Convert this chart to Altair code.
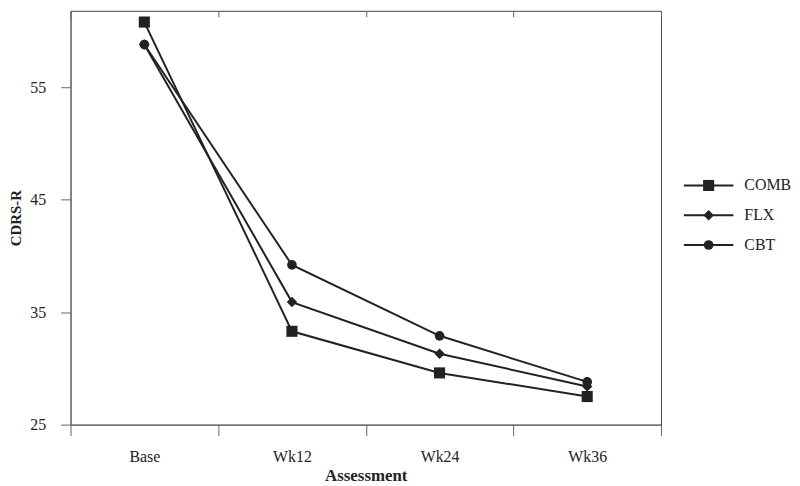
import altair as alt
import pandas as pd

assessments = ["Base", "Wk12", "Wk24", "Wk36"]
series = ["COMB", "FLX", "CBT"]
comb = [60.8, 33.3, 29.6, 27.5]
flx = [58.8, 35.9, 31.3, 28.4]
cbt = [58.8, 39.2, 32.9, 28.8]
y_ticks = [25, 35, 45, 55]
shapes = ["square", "diamond", "circle"]
sizes = [125, 95, 110]

rows = []
for s, vals in zip(series, [comb, flx, cbt]):
    for a, v in zip(assessments, vals):
        rows.append({"Assessment": a, "Group": s, "CDRS-R": v})
df = pd.DataFrame(rows)

FONT = "Liberation Serif"
INK = "#222222"
AXC = "#666666"

shape_scale = alt.Scale(domain=series, range=shapes)
size_scale = alt.Scale(domain=series, range=sizes)
xscale = alt.Scale(type="band", paddingInner=0, paddingOuter=0)

y = alt.Y("CDRS-R:Q", scale=alt.Scale(domain=[25, 61.8], nice=False, zero=False),
          axis=alt.Axis(title="CDRS-R", values=y_ticks, tickSize=10, labelPadding=15,
                        labelFontSize=16, labelFont=FONT, labelColor=INK,
                        titleFont=FONT, titleFontSize=15, titleFontWeight="bold",
                        titleColor=INK, titlePadding=6, grid=False,
                        domainColor=AXC, tickColor=AXC))

lines = alt.Chart(df).mark_line(color=INK, strokeWidth=2).encode(
    x=alt.X("Assessment:N", sort=assessments, scale=xscale,
            axis=alt.Axis(title="Assessment", tickBand="extent", tickSize=11,
                          labelPadding=13, labelFontSize=16, labelFont=FONT,
                          labelColor=INK, labelAngle=0, titleFont=FONT,
                          titleFontSize=17, titleFontWeight="bold", titleColor=INK,
                          titlePadding=3, grid=False, domainColor=AXC, tickColor=AXC)),
    y=y,
    detail="Group:N",
)

points = alt.Chart(df).mark_point(filled=True, opacity=1, color=INK).encode(
    x=alt.X("Assessment:N", sort=assessments, scale=xscale,
            axis=alt.Axis(orient="top", title=None, labels=False, domain=False,
                          tickBand="extent", tickSize=6, offset=-6, tickColor=AXC,
                          grid=False)),
    y=y,
    shape=alt.Shape("Group:N", scale=shape_scale, legend=None),
    size=alt.Size("Group:N", scale=size_scale, legend=None),
)

main = alt.layer(lines, points).resolve_axis(x="independent").properties(
    width=595, height=417, view=alt.ViewBackground(stroke="#444444", strokeWidth=1)
)

leg_df = pd.DataFrame({"Group": series})
ly = alt.Y("Group:N", sort=series,
           scale=alt.Scale(type="point", range=[176, 236], padding=0), axis=None)
leg_rule = alt.Chart(leg_df).mark_rule(color=INK, strokeWidth=2).encode(
    x=alt.value(22), x2=alt.value(72), y=ly)
leg_pts = alt.Chart(leg_df).mark_point(filled=True, opacity=1, color=INK).encode(
    x=alt.value(47), y=ly,
    shape=alt.Shape("Group:N", scale=shape_scale, legend=None),
    size=alt.Size("Group:N", scale=size_scale, legend=None))
leg_txt = alt.Chart(leg_df).mark_text(align="left", baseline="middle", font=FONT,
                                       fontSize=16, color=INK).encode(
    x=alt.value(83), y=ly, text="Group:N")
legend = alt.layer(leg_rule, leg_pts, leg_txt).properties(
    width=110, height=417, view=alt.ViewBackground(stroke=None))

chart = alt.hconcat(main, legend, spacing=0).resolve_scale(
    shape="independent", size="independent").properties(
    padding=0, background="white")

chart.save("out.html", embed_options={"renderer": "svg", "actions": False})
